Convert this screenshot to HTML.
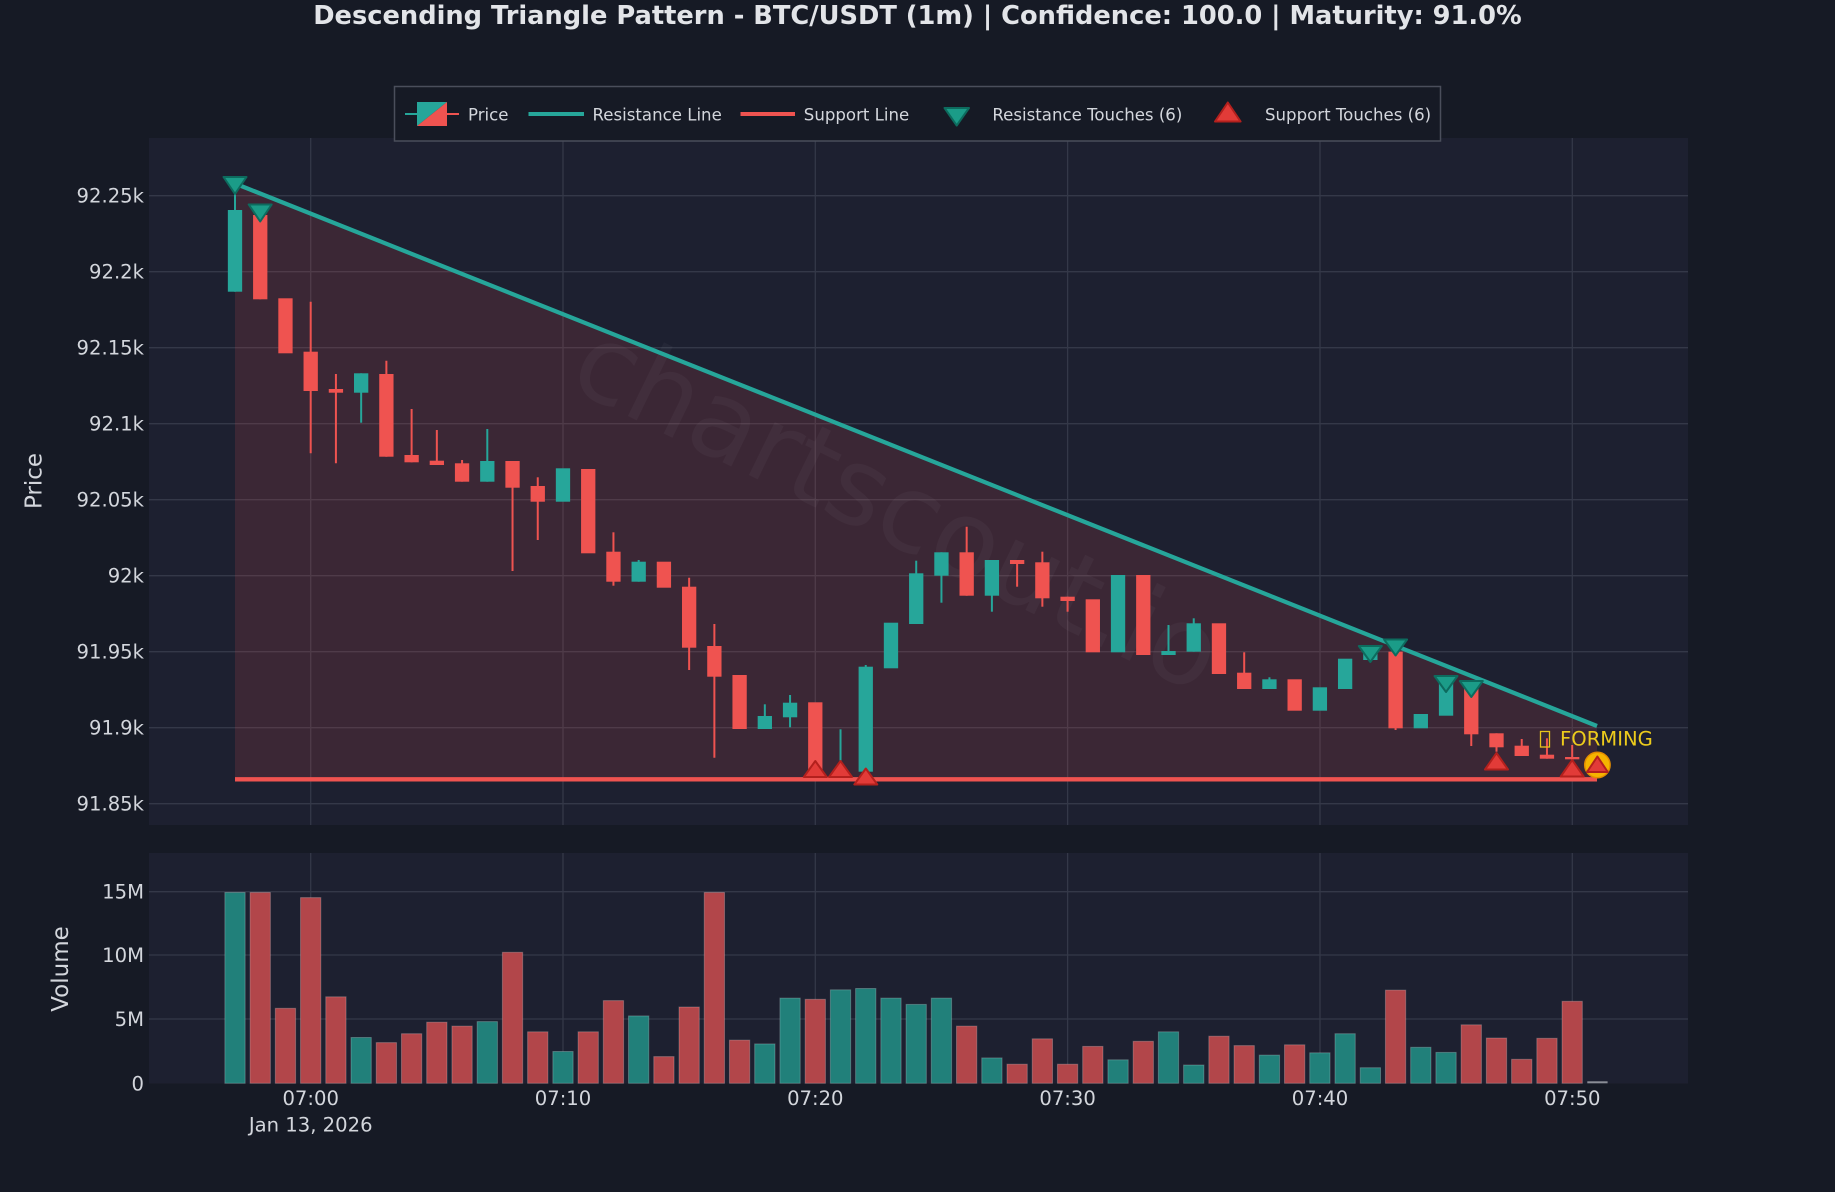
<!DOCTYPE html>
<html>
<head>
<meta charset="utf-8">
<style>
html,body{margin:0;padding:0;background:#161a25;}
body{width:1835px;height:1192px;overflow:hidden;}
svg{display:block;font-family:"DejaVu Sans","Liberation Sans",sans-serif;}
.grid line{stroke:#343848;stroke-width:1.3;}
.cg line{stroke:#26a69a;stroke-width:2;}
.cg rect.b{fill:#26a69a;}
.cr line{stroke:#ef5350;stroke-width:2;}
.cr rect.b{fill:#ef5350;}
.cg rect.v{fill:#21807a;stroke:rgba(255,255,255,0.22);stroke-width:1;}
.cr rect.v{fill:#b2464a;stroke:rgba(255,255,255,0.22);stroke-width:1;}
.tk{fill:#d3d6dc;font-size:19.6px;}
.lg{fill:#d3d6dc;font-size:16.6px;}
.rm{fill:#1b9c88;stroke:#0d6b5e;stroke-width:2;stroke-linejoin:round;}
.sm{fill:#e23b38;stroke:#b3201d;stroke-width:2;stroke-linejoin:round;}
</style>
</head>
<body>
<svg width="1835" height="1192" viewBox="0 0 1835 1192" xmlns="http://www.w3.org/2000/svg">
<rect x="0" y="0" width="1835" height="1192" fill="#161a25"/>

<!-- Title -->
<text x="917.5" y="24" text-anchor="middle" font-size="25.7" font-weight="bold" fill="#e2e4e8">Descending Triangle Pattern - BTC/USDT (1m) | Confidence: 100.0 | Maturity: 91.0%</text>

<!-- Plot backgrounds -->
<rect x="149" y="138" width="1539" height="687" fill="#1d2030"/>
<rect x="149" y="853" width="1539" height="230.5" fill="#1d2030"/>

<!-- Grid -->
<g class="grid">
<line x1="149" x2="1688" y1="195.7" y2="195.7"/>
<line x1="149" x2="1688" y1="271.7" y2="271.7"/>
<line x1="149" x2="1688" y1="347.7" y2="347.7"/>
<line x1="149" x2="1688" y1="423.7" y2="423.7"/>
<line x1="149" x2="1688" y1="499.7" y2="499.7"/>
<line x1="149" x2="1688" y1="575.7" y2="575.7"/>
<line x1="149" x2="1688" y1="651.7" y2="651.7"/>
<line x1="149" x2="1688" y1="727.7" y2="727.7"/>
<line x1="149" x2="1688" y1="803.7" y2="803.7"/>
<line x1="310.7" x2="310.7" y1="138" y2="825"/>
<line x1="563" x2="563" y1="138" y2="825"/>
<line x1="815.3" x2="815.3" y1="138" y2="825"/>
<line x1="1067.6" x2="1067.6" y1="138" y2="825"/>
<line x1="1320" x2="1320" y1="138" y2="825"/>
<line x1="1572.3" x2="1572.3" y1="138" y2="825"/>
<line x1="149" x2="1688" y1="891.7" y2="891.7"/>
<line x1="149" x2="1688" y1="955" y2="955"/>
<line x1="149" x2="1688" y1="1019" y2="1019"/>
<line x1="310.7" x2="310.7" y1="853" y2="1083"/>
<line x1="563" x2="563" y1="853" y2="1083"/>
<line x1="815.3" x2="815.3" y1="853" y2="1083"/>
<line x1="1067.6" x2="1067.6" y1="853" y2="1083"/>
<line x1="1320" x2="1320" y1="853" y2="1083"/>
<line x1="1572.3" x2="1572.3" y1="853" y2="1083"/>
</g>

<!-- Triangle fill -->
<polygon points="235,183.5 1597,726 1597,779.3 235,779.3" fill="rgba(239,83,80,0.145)"/>

<!-- Watermark -->
<text transform="translate(882,540) rotate(26)" text-anchor="middle" font-size="108" fill="rgba(255,255,255,0.035)">chartscout.io</text>

<!-- Candles + volume -->
<g class="cg" transform="translate(235,0)"><line y1="185" y2="291.7"/><rect class="b" x="-7.15" y="210" width="14.3" height="81.7"/><rect class="v" x="-10.15" y="892.5" width="20.3" height="190.8"/></g>
<g class="cr" transform="translate(260.23,0)"><line y1="212" y2="299.3"/><rect class="b" x="-7.15" y="215" width="14.3" height="84.3"/><rect class="v" x="-10.15" y="892.5" width="20.3" height="190.8"/></g>
<g class="cr" transform="translate(285.46,0)"><rect class="b" x="-7.15" y="298.3" width="14.3" height="55"/><rect class="v" x="-10.15" y="1008.3" width="20.3" height="75"/></g>
<g class="cr" transform="translate(310.69,0)"><line y1="301.7" y2="453.3"/><rect class="b" x="-7.15" y="351.7" width="14.3" height="39.3"/><rect class="v" x="-10.15" y="897.6" width="20.3" height="185.7"/></g>
<g class="cr" transform="translate(335.92,0)"><line y1="374" y2="463.3"/><rect class="b" x="-7.15" y="389" width="14.3" height="3.7"/><rect class="v" x="-10.15" y="996.8" width="20.3" height="86.5"/></g>
<g class="cg" transform="translate(361.15,0)"><line y1="373.3" y2="422.7"/><rect class="b" x="-7.15" y="373.3" width="14.3" height="19.4"/><rect class="v" x="-10.15" y="1037.5" width="20.3" height="45.8"/></g>
<g class="cr" transform="translate(386.38,0)"><line y1="360.7" y2="456.7"/><rect class="b" x="-7.15" y="374" width="14.3" height="82.7"/><rect class="v" x="-10.15" y="1042.6" width="20.3" height="40.7"/></g>
<g class="cr" transform="translate(411.61,0)"><line y1="409" y2="462.3"/><rect class="b" x="-7.15" y="455" width="14.3" height="7.3"/><rect class="v" x="-10.15" y="1033.7" width="20.3" height="49.6"/></g>
<g class="cr" transform="translate(436.84,0)"><line y1="430" y2="465"/><rect class="b" x="-7.15" y="460.7" width="14.3" height="4.3"/><rect class="v" x="-10.15" y="1022.2" width="20.3" height="61.1"/></g>
<g class="cr" transform="translate(462.07,0)"><line y1="460" y2="481.7"/><rect class="b" x="-7.15" y="463.3" width="14.3" height="18.4"/><rect class="v" x="-10.15" y="1026.1" width="20.3" height="57.2"/></g>
<g class="cg" transform="translate(487.3,0)"><line y1="429" y2="481.7"/><rect class="b" x="-7.15" y="461" width="14.3" height="20.7"/><rect class="v" x="-10.15" y="1021.6" width="20.3" height="61.7"/></g>
<g class="cr" transform="translate(512.53,0)"><line y1="461" y2="571"/><rect class="b" x="-7.15" y="461" width="14.3" height="26.7"/><rect class="v" x="-10.15" y="952.3" width="20.3" height="131"/></g>
<g class="cr" transform="translate(537.76,0)"><line y1="477.3" y2="540"/><rect class="b" x="-7.15" y="486" width="14.3" height="15.7"/><rect class="v" x="-10.15" y="1031.8" width="20.3" height="51.5"/></g>
<g class="cg" transform="translate(562.99,0)"><rect class="b" x="-7.15" y="468.3" width="14.3" height="33.4"/><rect class="v" x="-10.15" y="1051.5" width="20.3" height="31.8"/></g>
<g class="cr" transform="translate(588.22,0)"><rect class="b" x="-7.15" y="469" width="14.3" height="84.3"/><rect class="v" x="-10.15" y="1031.8" width="20.3" height="51.5"/></g>
<g class="cr" transform="translate(613.45,0)"><line y1="532.3" y2="585.7"/><rect class="b" x="-7.15" y="551.7" width="14.3" height="30"/><rect class="v" x="-10.15" y="1000.6" width="20.3" height="82.7"/></g>
<g class="cg" transform="translate(638.68,0)"><line y1="560" y2="581.7"/><rect class="b" x="-7.15" y="561.7" width="14.3" height="20"/><rect class="v" x="-10.15" y="1015.9" width="20.3" height="67.4"/></g>
<g class="cr" transform="translate(663.91,0)"><rect class="b" x="-7.15" y="561.7" width="14.3" height="26"/><rect class="v" x="-10.15" y="1056.6" width="20.3" height="26.7"/></g>
<g class="cr" transform="translate(689.14,0)"><line y1="577.7" y2="670"/><rect class="b" x="-7.15" y="586.7" width="14.3" height="61"/><rect class="v" x="-10.15" y="1007" width="20.3" height="76.3"/></g>
<g class="cr" transform="translate(714.37,0)"><line y1="624" y2="757.7"/><rect class="b" x="-7.15" y="646" width="14.3" height="30.7"/><rect class="v" x="-10.15" y="892.5" width="20.3" height="190.8"/></g>
<g class="cr" transform="translate(739.6,0)"><rect class="b" x="-7.15" y="675" width="14.3" height="54"/><rect class="v" x="-10.15" y="1040.1" width="20.3" height="43.2"/></g>
<g class="cg" transform="translate(764.83,0)"><line y1="704.3" y2="729"/><rect class="b" x="-7.15" y="716" width="14.3" height="13"/><rect class="v" x="-10.15" y="1043.9" width="20.3" height="39.4"/></g>
<g class="cg" transform="translate(790.06,0)"><line y1="695" y2="727.3"/><rect class="b" x="-7.15" y="702.7" width="14.3" height="14.6"/><rect class="v" x="-10.15" y="998.1" width="20.3" height="85.2"/></g>
<g class="cr" transform="translate(815.29,0)"><rect class="b" x="-7.15" y="702.3" width="14.3" height="70.7"/><rect class="v" x="-10.15" y="999.3" width="20.3" height="84"/></g>
<g class="cg" transform="translate(840.52,0)"><line y1="729.3" y2="775"/><rect class="b" x="-7.15" y="771" width="14.3" height="3"/><rect class="v" x="-10.15" y="989.8" width="20.3" height="93.5"/></g>
<g class="cg" transform="translate(865.75,0)"><line y1="665" y2="777"/><rect class="b" x="-7.15" y="666.7" width="14.3" height="105"/><rect class="v" x="-10.15" y="988.5" width="20.3" height="94.8"/></g>
<g class="cg" transform="translate(890.98,0)"><rect class="b" x="-7.15" y="622.7" width="14.3" height="45.6"/><rect class="v" x="-10.15" y="998.1" width="20.3" height="85.2"/></g>
<g class="cg" transform="translate(916.21,0)"><line y1="560.7" y2="624"/><rect class="b" x="-7.15" y="573.3" width="14.3" height="50.7"/><rect class="v" x="-10.15" y="1004.4" width="20.3" height="78.9"/></g>
<g class="cg" transform="translate(941.44,0)"><line y1="552.3" y2="602.7"/><rect class="b" x="-7.15" y="552.3" width="14.3" height="23.4"/><rect class="v" x="-10.15" y="998.1" width="20.3" height="85.2"/></g>
<g class="cr" transform="translate(966.67,0)"><line y1="526.7" y2="595.7"/><rect class="b" x="-7.15" y="552.3" width="14.3" height="43.4"/><rect class="v" x="-10.15" y="1026.1" width="20.3" height="57.2"/></g>
<g class="cg" transform="translate(991.9,0)"><line y1="560" y2="611.7"/><rect class="b" x="-7.15" y="560" width="14.3" height="35.7"/><rect class="v" x="-10.15" y="1057.9" width="20.3" height="25.4"/></g>
<g class="cr" transform="translate(1017.13,0)"><line y1="560" y2="586.7"/><rect class="b" x="-7.15" y="560" width="14.3" height="4"/><rect class="v" x="-10.15" y="1064.2" width="20.3" height="19.1"/></g>
<g class="cr" transform="translate(1042.36,0)"><line y1="551.7" y2="606.7"/><rect class="b" x="-7.15" y="562.3" width="14.3" height="36"/><rect class="v" x="-10.15" y="1038.8" width="20.3" height="44.5"/></g>
<g class="cr" transform="translate(1067.59,0)"><line y1="596.7" y2="611.7"/><rect class="b" x="-7.15" y="596.7" width="14.3" height="4.3"/><rect class="v" x="-10.15" y="1064.2" width="20.3" height="19.1"/></g>
<g class="cr" transform="translate(1092.82,0)"><rect class="b" x="-7.15" y="599.3" width="14.3" height="53"/><rect class="v" x="-10.15" y="1046.4" width="20.3" height="36.9"/></g>
<g class="cg" transform="translate(1118.05,0)"><rect class="b" x="-7.15" y="575" width="14.3" height="77.3"/><rect class="v" x="-10.15" y="1059.8" width="20.3" height="23.5"/></g>
<g class="cr" transform="translate(1143.28,0)"><rect class="b" x="-7.15" y="575" width="14.3" height="80"/><rect class="v" x="-10.15" y="1041.3" width="20.3" height="42"/></g>
<g class="cg" transform="translate(1168.51,0)"><line y1="625" y2="655"/><rect class="b" x="-7.15" y="651" width="14.3" height="4"/><rect class="v" x="-10.15" y="1031.8" width="20.3" height="51.5"/></g>
<g class="cg" transform="translate(1193.74,0)"><line y1="618.3" y2="651.7"/><rect class="b" x="-7.15" y="623.3" width="14.3" height="28.4"/><rect class="v" x="-10.15" y="1065" width="20.3" height="18.3"/></g>
<g class="cr" transform="translate(1218.97,0)"><rect class="b" x="-7.15" y="623.3" width="14.3" height="50.7"/><rect class="v" x="-10.15" y="1036.2" width="20.3" height="47.1"/></g>
<g class="cr" transform="translate(1244.2,0)"><line y1="652.3" y2="689"/><rect class="b" x="-7.15" y="672.7" width="14.3" height="16.3"/><rect class="v" x="-10.15" y="1045.6" width="20.3" height="37.7"/></g>
<g class="cg" transform="translate(1269.43,0)"><line y1="677.3" y2="689"/><rect class="b" x="-7.15" y="679.3" width="14.3" height="9.7"/><rect class="v" x="-10.15" y="1055.1" width="20.3" height="28.2"/></g>
<g class="cr" transform="translate(1294.66,0)"><rect class="b" x="-7.15" y="679.3" width="14.3" height="31.4"/><rect class="v" x="-10.15" y="1044.8" width="20.3" height="38.5"/></g>
<g class="cg" transform="translate(1319.89,0)"><rect class="b" x="-7.15" y="687.3" width="14.3" height="23.4"/><rect class="v" x="-10.15" y="1052.8" width="20.3" height="30.5"/></g>
<g class="cg" transform="translate(1345.12,0)"><rect class="b" x="-7.15" y="658.7" width="14.3" height="30.3"/><rect class="v" x="-10.15" y="1033.7" width="20.3" height="49.6"/></g>
<g class="cg" transform="translate(1370.35,0)"><rect class="b" x="-7.15" y="653.3" width="14.3" height="6.7"/><rect class="v" x="-10.15" y="1067.7" width="20.3" height="15.6"/></g>
<g class="cr" transform="translate(1395.58,0)"><line y1="645" y2="730"/><rect class="b" x="-7.15" y="651.7" width="14.3" height="76.6"/><rect class="v" x="-10.15" y="990.1" width="20.3" height="93.2"/></g>
<g class="cg" transform="translate(1420.81,0)"><rect class="b" x="-7.15" y="714" width="14.3" height="14.3"/><rect class="v" x="-10.15" y="1047.3" width="20.3" height="36"/></g>
<g class="cg" transform="translate(1446.04,0)"><rect class="b" x="-7.15" y="683.3" width="14.3" height="32.4"/><rect class="v" x="-10.15" y="1052.4" width="20.3" height="30.9"/></g>
<g class="cr" transform="translate(1471.27,0)"><line y1="686" y2="746"/><rect class="b" x="-7.15" y="686.7" width="14.3" height="47.6"/><rect class="v" x="-10.15" y="1024.8" width="20.3" height="58.5"/></g>
<g class="cr" transform="translate(1496.5,0)"><line y1="733.3" y2="751.7"/><rect class="b" x="-7.15" y="733.3" width="14.3" height="14"/><rect class="v" x="-10.15" y="1038" width="20.3" height="45.3"/></g>
<g class="cr" transform="translate(1521.73,0)"><line y1="739" y2="756"/><rect class="b" x="-7.15" y="745.7" width="14.3" height="10.3"/><rect class="v" x="-10.15" y="1059.3" width="20.3" height="24"/></g>
<g class="cr" transform="translate(1546.96,0)"><line y1="738.3" y2="758.7"/><rect class="b" x="-7.15" y="754.7" width="14.3" height="4"/><rect class="v" x="-10.15" y="1038.3" width="20.3" height="45"/></g>
<g class="cr" transform="translate(1572.19,0)"><line y1="745" y2="763"/><rect class="b" x="-7.15" y="757" width="14.3" height="2.3"/><rect class="v" x="-10.15" y="1001.3" width="20.3" height="82"/></g>
<rect x="1587.3" y="1081.3" width="20.3" height="2" fill="#8a8d96"/>

<!-- Lines -->
<line x1="235" y1="183.5" x2="1597" y2="726" stroke="#26a69a" stroke-width="4.2"/>
<line x1="235" y1="779.3" x2="1597" y2="779.3" stroke="#ef5350" stroke-width="4.3"/>

<!-- Resistance touch markers -->
<polygon class="rm" points="223.5,177 246.5,177 235,194"/>
<polygon class="rm" points="248.7,204.5 271.7,204.5 260.2,221.5"/>
<polygon class="rm" points="1358.8,646 1381.8,646 1370.3,662"/>
<polygon class="rm" points="1384.1,639.5 1407.1,639.5 1395.6,655.5"/>
<polygon class="rm" points="1434.5,676 1457.5,676 1446,692"/>
<polygon class="rm" points="1459.8,681 1482.8,681 1471.3,697"/>

<!-- Support touch markers -->
<polygon class="sm" points="815.3,761 803.8,777 826.8,777"/>
<polygon class="sm" points="840.5,761 829,777 852,777"/>
<polygon class="sm" points="865.8,768.5 854.3,784.5 877.3,784.5"/>
<polygon class="sm" points="1496.5,753 1485,769.5 1508,769.5"/>
<polygon class="sm" points="1572.2,760 1560.7,776.5 1583.7,776.5"/>
<circle cx="1597.4" cy="765" r="12.7" fill="#f5b400" stroke="#e38c00" stroke-width="1.5"/>
<polygon class="sm" points="1597.4,756.5 1587,772 1607.8,772"/>

<!-- FORMING label -->
<rect x="1540.5" y="731.5" width="9" height="15.5" fill="none" stroke="#e8c31a" stroke-width="1.3"/>
<text x="1560" y="745.5" font-size="19.6" fill="#eccb1c">FORMING</text>

<!-- Y tick labels -->
<g class="tk" text-anchor="end">
<text x="144" y="202.7">92.25k</text>
<text x="144" y="278.7">92.2k</text>
<text x="144" y="354.7">92.15k</text>
<text x="144" y="430.7">92.1k</text>
<text x="144" y="506.7">92.05k</text>
<text x="144" y="582.7">92k</text>
<text x="144" y="658.7">91.95k</text>
<text x="144" y="734.7">91.9k</text>
<text x="144" y="810.7">91.85k</text>
<text x="144" y="898.7">15M</text>
<text x="144" y="962">10M</text>
<text x="144" y="1026">5M</text>
<text x="144" y="1090.3">0</text>
</g>

<!-- X tick labels -->
<g class="tk" text-anchor="middle">
<text x="310.7" y="1105">07:00</text>
<text x="310.7" y="1131.5">Jan 13, 2026</text>
<text x="563" y="1105">07:10</text>
<text x="815.3" y="1105">07:20</text>
<text x="1067.6" y="1105">07:30</text>
<text x="1320" y="1105">07:40</text>
<text x="1572.3" y="1105">07:50</text>
</g>

<!-- Axis titles -->
<text transform="translate(41.5,481) rotate(-90)" text-anchor="middle" font-size="23" fill="#d3d6dc">Price</text>
<text transform="translate(68,969) rotate(-90)" text-anchor="middle" font-size="23" fill="#d3d6dc">Volume</text>

<!-- Legend -->
<rect x="394.5" y="86.5" width="1046" height="54.5" fill="#161a25" stroke="#4a4e5b" stroke-width="1.5"/>
<line x1="405" y1="114" x2="418" y2="114" stroke="#26a69a" stroke-width="2"/>
<line x1="446" y1="114" x2="459" y2="114" stroke="#ef5350" stroke-width="2"/>
<polygon points="417,102 447,102 417,126" fill="#26a69a"/>
<polygon points="447,102 447,126 417,126" fill="#ef5350"/>
<text class="lg" x="468" y="120.5">Price</text>
<line x1="528.5" y1="114" x2="584" y2="114" stroke="#26a69a" stroke-width="4"/>
<text class="lg" x="592.5" y="120.5">Resistance Line</text>
<line x1="740.5" y1="114" x2="795" y2="114" stroke="#ef5350" stroke-width="4"/>
<text class="lg" x="803.8" y="120.5">Support Line</text>
<polygon class="rm" points="944.5,108 969,108 956.7,125.5"/>
<text class="lg" x="992.4" y="120.5">Resistance Touches (6)</text>
<polygon class="sm" points="1227.8,102.5 1215,121.5 1240.6,121.5"/>
<text class="lg" x="1265" y="120.5">Support Touches (6)</text>
</svg>
</body>
</html>
